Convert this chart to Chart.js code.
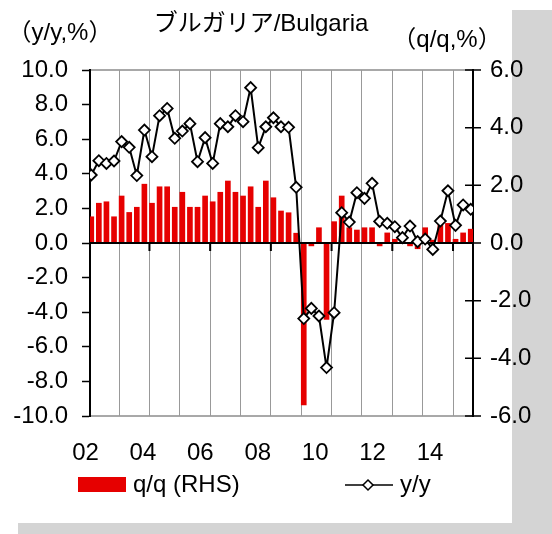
<!DOCTYPE html>
<html>
<head>
<meta charset="utf-8">
<script src="https://cdn.jsdelivr.net/npm/chart.js@4.4.1/dist/chart.umd.min.js"></script>
<style>
  html, body { margin: 0; padding: 0; background: #fff; }
  canvas { display: block; }
</style>
</head>
<body>
<canvas id="chart" width="552" height="534"></canvas>
<script>
// quarters shown on the chart (Excel dated them on the middle month)
const quarters = [
  "2002Q1", "2002Q2", "2002Q3", "2002Q4",
  "2003Q1", "2003Q2", "2003Q3", "2003Q4",
  "2004Q1", "2004Q2", "2004Q3", "2004Q4",
  "2005Q1", "2005Q2", "2005Q3", "2005Q4",
  "2006Q1", "2006Q2", "2006Q3", "2006Q4",
  "2007Q1", "2007Q2", "2007Q3", "2007Q4",
  "2008Q1", "2008Q2", "2008Q3", "2008Q4",
  "2009Q1", "2009Q2", "2009Q3", "2009Q4",
  "2010Q1", "2010Q2", "2010Q3", "2010Q4",
  "2011Q1", "2011Q2", "2011Q3", "2011Q4",
  "2012Q1", "2012Q2", "2012Q3", "2012Q4",
  "2013Q1", "2013Q2", "2013Q3", "2013Q4",
  "2014Q1", "2014Q2", "2014Q3"
];

// q/q, % (right axis)
const qoq = [
  0.91, 1.38, 1.43, 0.91,
  1.63, 1.06, 1.24, 2.04,
  1.38, 1.95, 1.95, 1.24,
  1.76, 1.24, 1.24, 1.63,
  1.43, 1.76, 2.15, 1.76,
  1.63, 1.95, 1.24, 2.15,
  1.57, 1.11, 1.05, 0.34,
  -5.62, -0.10, 0.53, -2.65,
  0.74, 1.63, 0.53, 0.45,
  0.53, 0.53, -0.10, 0.35,
  0.13, 0.05, -0.10, -0.20,
  0.53, 0.10, 0.62, 0.68,
  0.13, 0.35, 0.48
];

// y/y, % (left axis)
const yoy = [
  3.93, 4.76, 4.60, 4.74,
  5.86, 5.53, 3.90, 6.53,
  4.99, 7.36, 7.78, 6.05,
  6.47, 6.90, 4.70, 6.09,
  4.60, 6.90, 6.72, 7.36,
  7.01, 8.98, 5.51, 6.72,
  7.24, 6.72, 6.69, 3.22,
  -4.37, -3.78, -4.22, -7.20,
  -4.03, 1.75, 1.21, 2.91,
  2.58, 3.45, 1.25, 1.14,
  0.94, 0.31, 0.98, 0.08,
  0.23, -0.37, 1.27, 3.02,
  1.02, 2.20, 1.95
];

const yearLabels = ["02", "04", "06", "08", "10", "12", "14"];
const gridYears = [2003, 2004, 2005, 2006, 2007, 2008, 2009, 2010, 2011, 2012, 2013, 2014];
const majorYears = [2004, 2006, 2008, 2010, 2012, 2014];

const FONT = '"Liberation Sans", "Noto Sans CJK JP", Arial, sans-serif';
const barColor = "#e60000";

// months since Jan 2002, quarters sit on their middle month
const toMonth = (q) => (parseInt(q.slice(0, 4)) - 2002) * 12 + (parseInt(q.slice(5)) - 1) * 3 + 1;
const yearToMonth = (y) => (y - 2002) * 12;

const decor = {
  id: "decor",
  beforeDraw(chart) {
    const { ctx, chartArea: a } = chart;
    ctx.save();
    ctx.fillStyle = "#fff";
    ctx.fillRect(0, 0, chart.width, chart.height);
    ctx.fillStyle = "#d4d4d4";
    ctx.fillRect(512, 10, 40, 524);
    ctx.fillRect(18, 523, 494, 11);
    ctx.strokeStyle = "#8c8c8c";
    ctx.lineWidth = 1.5;
    ctx.strokeRect(a.left, a.top, a.right - a.left, a.bottom - a.top);
    ctx.restore();
  },
  afterDatasetDraw(chart, args) {
    if (args.index !== 0) return;
    const { ctx, chartArea: a, scales } = chart;
    const y0 = scales.y.getPixelForValue(0);
    ctx.save();
    ctx.strokeStyle = "#000";
    ctx.lineWidth = 2;
    ctx.beginPath();
    ctx.moveTo(a.left, y0);
    ctx.lineTo(a.right, y0);
    majorYears.forEach((yr) => {
      const x = scales.x.getPixelForValue(yearToMonth(yr));
      ctx.moveTo(x, y0);
      ctx.lineTo(x, y0 + 8);
    });
    ctx.stroke();
    ctx.restore();
  },
  afterDraw(chart) {
    const { ctx, chartArea: a, scales } = chart;
    ctx.save();
    // right axis ticks cross the axis line
    ctx.strokeStyle = "#000";
    ctx.lineWidth = 1.5;
    ctx.beginPath();
    scales.y1.ticks.forEach((t) => {
      const y = scales.y1.getPixelForValue(t.value);
      ctx.moveTo(a.right - 8, y);
      ctx.lineTo(a.right + 8, y);
    });
    ctx.stroke();

    ctx.fillStyle = "#000";
    ctx.font = "24px " + FONT;
    ctx.textBaseline = "middle";
    ctx.textAlign = "center";
    ctx.fillText("ブルガリア/Bulgaria", 261, 24);
    ctx.fillText("（y/y,%）", 60, 33);
    ctx.fillText("（q/q,%）", 447, 40);

    // legend
    const ds = chart.data.datasets;
    ctx.textAlign = "left";
    ctx.fillStyle = ds[0].backgroundColor;
    ctx.fillRect(78, 477, 48, 15);
    ctx.fillStyle = "#000";
    ctx.fillText(ds[0].label, 133, 485);
    ctx.strokeStyle = "#000";
    ctx.lineWidth = 1.5;
    ctx.beginPath();
    ctx.moveTo(345, 485);
    ctx.lineTo(393, 485);
    ctx.stroke();
    ctx.fillStyle = "#fff";
    ctx.beginPath();
    ctx.moveTo(368, 480);
    ctx.lineTo(373, 485);
    ctx.lineTo(368, 490);
    ctx.lineTo(363, 485);
    ctx.closePath();
    ctx.fill();
    ctx.stroke();
    ctx.fillStyle = "#000";
    ctx.fillText(ds[1].label, 400, 485);
    ctx.restore();
  },
};

new Chart(document.getElementById("chart"), {
  type: "bar",
  data: {
    datasets: [
      {
        type: "bar",
        label: "q/q (RHS)",
        data: quarters.map((q, i) => ({ x: toMonth(q), y: qoq[i] })),
        backgroundColor: barColor,
        borderWidth: 0,
        barThickness: 5,
        yAxisID: "y1",
        xAxisID: "x",
        order: 2,
      },
      {
        type: "line",
        label: "y/y",
        data: quarters.map((q, i) => ({ x: toMonth(q), y: yoy[i] })),
        borderColor: "#000",
        borderWidth: 2,
        pointStyle: "rectRot",
        pointRadius: 5.5,
        pointBackgroundColor: "#fff",
        pointBorderColor: "#000",
        pointBorderWidth: 1.8,
        tension: 0,
        yAxisID: "y",
        xAxisID: "x",
        order: 1,
      },
    ],
  },
  options: {
    responsive: false,
    animation: false,
    devicePixelRatio: 1,
    layout: { padding: { top: 70, bottom: 48, left: 0, right: 0 } },
    plugins: {
      legend: { display: false },
      tooltip: { enabled: false },
    },
    scales: {
      x: {
        type: "linear",
        position: "bottom",
        offset: false,
        min: 0.5,
        max: 151.9,
        afterBuildTicks: (s) => {
          s.ticks = gridYears.map((y) => ({ value: yearToMonth(y) }));
        },
        afterFit: (s) => {
          s.height = 0;
        },
        grid: { display: true, drawOnChartArea: true, offset: false, color: "#999999", lineWidth: 1, drawTicks: false },
        border: { display: false },
        ticks: { display: false },
      },
      xl: {
        type: "linear",
        position: "bottom",
        offset: false,
        min: 2002.157,
        max: 2015.497,
        afterBuildTicks: (s) => {
          s.ticks = yearLabels.map((l) => ({ value: 2000 + parseInt(l) }));
        },
        afterFit: (s) => {
          s.height = 70;
        },
        grid: { offset: false, display: false, drawTicks: false },
        border: { display: false },
        ticks: {
          autoSkip: false,
          maxRotation: 0,
          padding: 23,
          color: "#000",
          font: { family: FONT, size: 24 },
          callback: (v) => String(v).slice(2),
        },
      },
      y: {
        position: "left",
        min: -10,
        max: 10,
        afterFit: (s) => {
          s.width = 90;
        },
        ticks: {
          stepSize: 2,
          padding: 14,
          color: "#000",
          font: { family: FONT, size: 24 },
          callback: (v) => v.toFixed(1),
        },
        grid: { drawOnChartArea: false, drawTicks: true, tickLength: 8, tickColor: "#000", tickWidth: 1.5 },
        border: { display: true, color: "#000", width: 2 },
      },
      y1: {
        position: "right",
        min: -6,
        max: 6,
        afterFit: (s) => {
          s.width = 79;
        },
        ticks: {
          stepSize: 2,
          padding: 17,
          color: "#000",
          font: { family: FONT, size: 24 },
          callback: (v) => v.toFixed(1),
        },
        grid: { display: false, drawTicks: false },
        border: { display: true, color: "#000", width: 2 },
      },
    },
  },
  plugins: [decor],
});
</script>
</body>
</html>
